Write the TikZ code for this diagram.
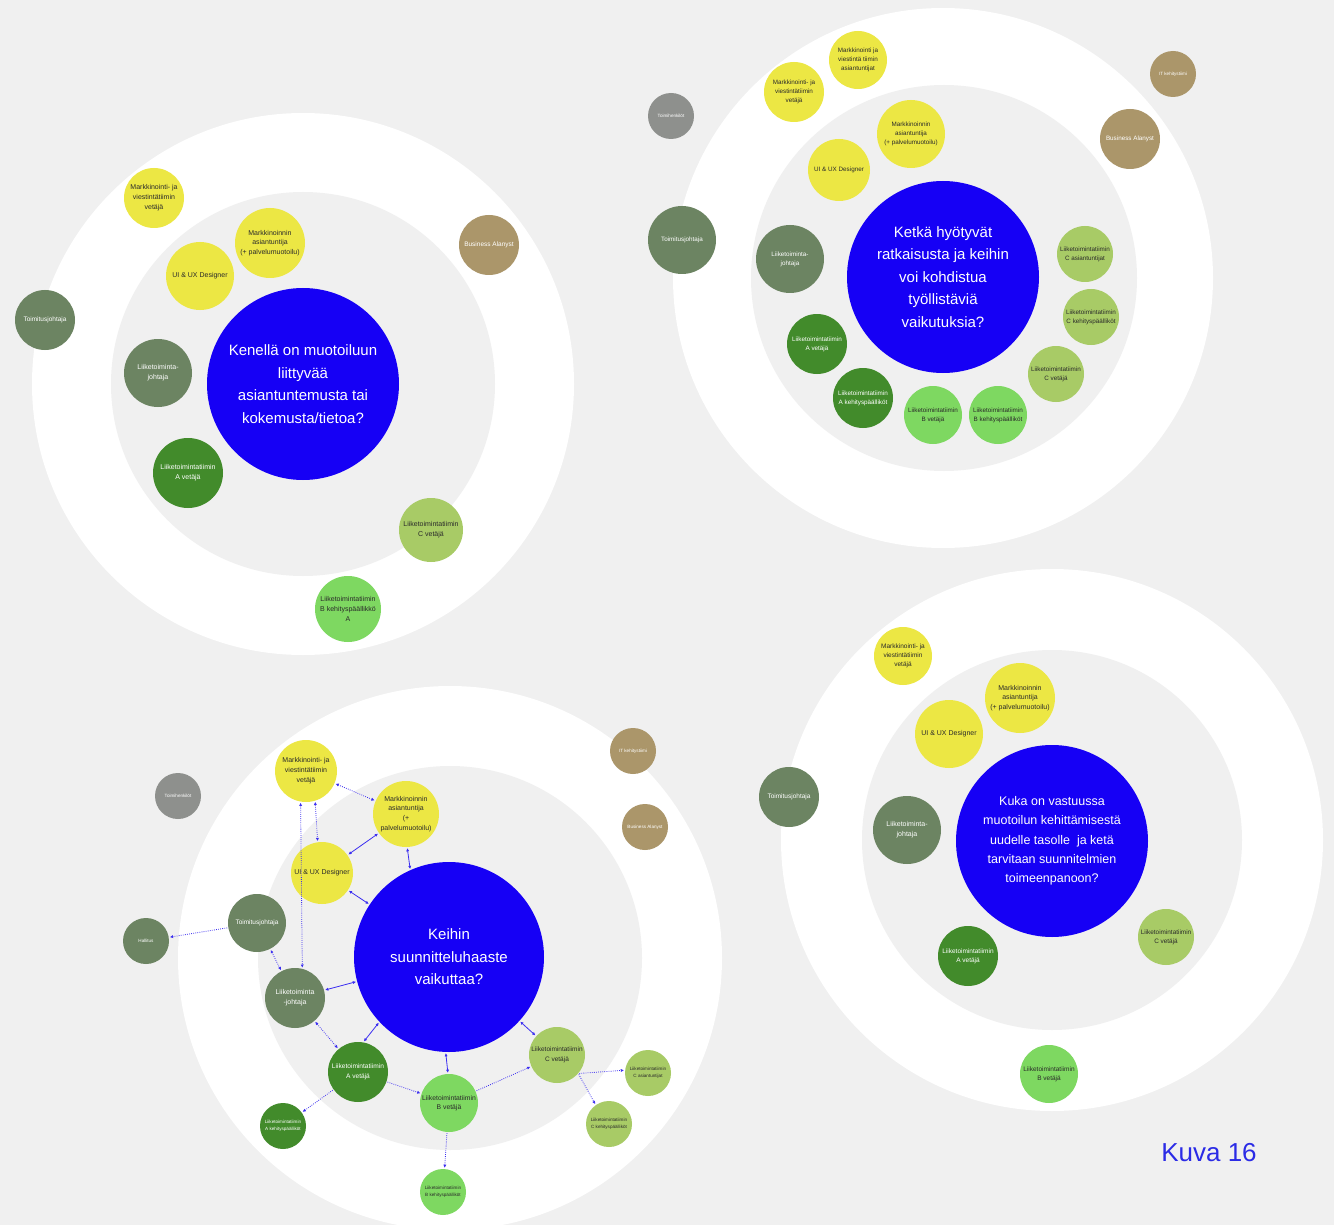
\documentclass[tikz,border=0pt]{standalone}
\usepackage{fontspec}
\setmainfont{Liberation Sans}
\usetikzlibrary{arrows.meta}
\definecolor{bg}{HTML}{F0F0F0}
\definecolor{qblue}{HTML}{1600F5}
\definecolor{ylw}{HTML}{ECE744}
\definecolor{tanc}{HTML}{AB966A}
\definecolor{sage}{HTML}{6C8462}
\definecolor{dgreen}{HTML}{428B2B}
\definecolor{olive}{HTML}{A8CB66}
\definecolor{lgreen}{HTML}{7ED861}
\definecolor{grey}{HTML}{8E908D}
\definecolor{lnk}{HTML}{3B2EF0}
\definecolor{ink}{HTML}{2A2A2A}
\definecolor{capblue}{HTML}{2B2BE6}
\newcommand\setfs[2]{\fontsize{#1}{#2}\selectfont}
\begin{document}
\begin{tikzpicture}[x=1pt,y=-1pt,
  >={Latex[length=3.2pt,width=3.2pt]},
  bub/.style={circle, minimum size=#1, inner sep=0pt, align=center, font=\setfs{7}{10}},
  ylwn/.style={bub=#1, fill=ylw, text=ink},
  tann/.style={bub=#1, fill=tanc, text=white},
  sagen/.style={bub=#1, fill=sage, text=white},
  dgrn/.style={bub=#1, fill=dgreen, text=white},
  olivn/.style={bub=#1, fill=olive, text=ink},
  lgrn/.style={bub=#1, fill=lgreen, text=ink},
  gryn/.style={bub=#1, fill=grey, text=white},
  qnode/.style={bub=#1, fill=qblue, text=white, font=\setfs{15}{22.5}},
  tiny/.style={font=\setfs{4.6}{7}},
  small/.style={font=\setfs{6.3}{9.2}},
  lnkline/.style={draw=lnk, line width=0.8pt, shorten <=1pt, shorten >=1pt},
  lnkdots/.style={lnkline, dash pattern=on 0.8pt off 1.3pt}
]
% page background
\fill[bg] (0,0) rectangle (1334,1225);
\path[use as bounding box] (0,0) rectangle (1334,1225);

% outer white rings
\fill[white] (303,384) circle[radius=271pt];
\fill[white] (943,278) circle[radius=270pt];
\fill[white] (450,958) circle[radius=272pt];
\fill[white] (1052,840) circle[radius=271pt];
% inner grey discs
\fill[bg] (303,384) circle[radius=192pt];
\fill[bg] (944,278) circle[radius=193pt];
\fill[bg] (450,958) circle[radius=192pt];
\fill[bg] (1052,840) circle[radius=190pt];

% ---------------- top left ----------------
\node[qnode=192pt] (d1q) at (303,384) {Kenellä on muotoiluun\\liittyvää\\asiantuntemusta tai\\kokemusta/tietoa?};
\node[ylwn=60pt] (d1mv) at (154,198) {Markkinointi- ja\\viestintätiimin\\vetäjä};
\node[ylwn=70pt, font=\setfs{7}{9.6}] (d1ma) at (270,243) {Markkinoinnin\\asiantuntija\\(+ palvelumuotoilu)};
\node[ylwn=68pt] (d1ui) at (200,276) {UI \& UX Designer};
\node[tann=60pt, font=\setfs{6.5}{9}] (d1ba) at (489,245) {Business Alanyst};
\node[sagen=60pt, font=\setfs{6.5}{9}] (d1tj) at (45,320) {Toimitusjohtaja};
\node[sagen=68pt] (d1lj) at (158,373) {Liiketoiminta-\\johtaja};
\node[dgrn=70pt] (d1av) at (188,473) {Liiketoimintatiimin\\A vetäjä};
\node[olivn=64pt] (d1cv) at (431,530) {Liiketoimintatiimin\\C vetäjä};
\node[lgrn=66pt] (d1bk) at (348,609) {Liiketoimintatiimin\\B kehityspäällikkö\\A};

% ---------------- top right ----------------
\node[qnode=192pt] (d2q) at (943,277) {Ketkä hyötyvät\\ratkaisusta ja keihin\\voi kohdistua\\työllistäviä\\vaikutuksia?};
\node[ylwn=58pt, small] (d2mt) at (858,60) {Markkinointi ja\\viestintä tiimin\\asiantuntijat};
\node[ylwn=60pt, small] (d2mv) at (794,92) {Markkinointi- ja\\viestintätiimin\\vetäjä};
\node[ylwn=68pt, small] (d2ma) at (911,134) {Markkinoinnin\\asiantuntija\\(+ palvelumuotoilu)};
\node[ylwn=62pt, small] (d2ui) at (839,170) {UI \& UX Designer};
\node[gryn=46pt, tiny] (d2th) at (671,116) {Toimihenkilöt};
\node[tann=46pt, tiny] (d2it) at (1173,74) {IT kehitystiimi};
\node[tann=60pt, small] (d2ba) at (1130,139) {Business Alanyst};
\node[sagen=68pt, small] (d2tj) at (682,240) {Toimitusjohtaja};
\node[sagen=68pt, small] (d2lj) at (790,259) {Liiketoiminta-\\johtaja};
\node[olivn=56pt, small] (d2ca) at (1085,254) {Liiketoimintatiimin\\C asiantuntijat};
\node[olivn=56pt, small] (d2ck) at (1091,317) {Liiketoimintatiimin\\C kehityspäälliköt};
\node[olivn=56pt, small] (d2cv) at (1056,374) {Liiketoimintatiimin\\C vetäjä};
\node[dgrn=60pt, small] (d2av) at (817,344) {Liiketoimintatiimin\\A vetäjä};
\node[dgrn=60pt, small] (d2ak) at (863,398) {Liiketoimintatiimin\\A kehityspäälliköt};
\node[lgrn=58pt, small] (d2bv) at (933,415) {Liiketoimintatiimin\\B vetäjä};
\node[lgrn=58pt, small] (d2bk) at (998,415) {Liiketoimintatiimin\\B kehityspäälliköt};

% ---------------- bottom left ----------------
\node[qnode=190pt] (d3q) at (449,957) {Keihin\\suunnitteluhaaste\\vaikuttaa?};
\node[ylwn=62pt] (d3mv) at (306,771) {Markkinointi- ja\\viestintätiimin\\vetäjä};
\node[ylwn=66pt, font=\setfs{7}{9.7}] (d3ma) at (406,814) {Markkinoinnin\\asiantuntija\\(+\\palvelumuotoilu)};
\node[ylwn=62pt] (d3ui) at (322,873) {UI \& UX Designer};
\node[gryn=46pt, tiny] (d3th) at (178,796) {Toimihenkilöt};
\node[tann=46pt, tiny] (d3it) at (633,751) {IT kehitystiimi};
\node[tann=46pt, tiny] (d3ba) at (645,827) {Business Alanyst};
\node[sagen=58pt, font=\setfs{6.5}{9}] (d3tj) at (257,923) {Toimitusjohtaja};
\node[sagen=46pt, tiny] (d3ha) at (146,941) {Hallitus};
\node[sagen=60pt] (d3lj) at (295,998) {Liiketoiminta\\-johtaja};
\node[dgrn=60pt, font=\setfs{6.6}{9.5}] (d3av) at (358,1072) {Liiketoimintatiimin\\A vetäjä};
\node[dgrn=46pt, tiny] (d3ak) at (283,1126) {Liiketoimintatiimin\\A kehityspäälliköt};
\node[lgrn=58pt, font=\setfs{6.8}{9.5}] (d3bv) at (449,1103) {Liiketoimintatiimin\\B vetäjä};
\node[lgrn=46pt, tiny] (d3bk) at (443,1192) {Liiketoimintatiimin\\B kehityspäälliköt};
\node[olivn=56pt, font=\setfs{6.5}{9.5}] (d3cv) at (557,1055) {Liiketoimintatiimin\\C vetäjä};
\node[olivn=46pt, tiny] (d3ca) at (648,1073) {Liiketoimintatiimin\\C asiantuntijat};
\node[olivn=46pt, tiny] (d3ck) at (609,1124) {Liiketoimintatiimin\\C kehityspäälliköt};

% links between the people of the bottom-left circle
\draw[lnkdots,<->] (d3mv) -- (d3ma);
\draw[lnkdots,<->] (d3mv.287) -- (d3ui.98);
\draw[lnkdots,<->] (d3mv.260) -- (d3lj.76);
\draw[lnkline,<->] (d3ui) -- (d3ma);
\draw[lnkline,<->] (d3ma.272) -- (d3q.114);
\draw[lnkline,<->] (d3ui) -- (d3q);
\draw[lnkdots,->] (d3tj) -- (d3ha);
\draw[lnkdots,<->] (d3tj) -- (d3lj);
\draw[lnkline,<->] (d3lj) -- (d3q);
\draw[lnkdots,<->] (d3lj) -- (d3av);
\draw[lnkline,<->] (d3av.80) -- (d3q.223);
\draw[lnkline,<->] (d3q.268) -- (d3bv.92);
\draw[lnkdots,->] (d3av) -- (d3bv);
\draw[lnkdots,->] (d3av) -- (d3ak);
\draw[lnkline,<->] (d3q) -- (d3cv);
\draw[lnkdots,->] (d3bv) -- (d3cv);
\draw[lnkdots,->] (d3cv.319) -- (d3ca.173);
\draw[lnkdots,->] (d3cv.319) -- (d3ck.125);
\draw[lnkdots,->] (d3bv) -- (d3bk);

% ---------------- bottom right ----------------
\node[qnode=192pt, font=\setfs{12.5}{19.3}] (d4q) at (1052,841) {Kuka on vastuussa\\muotoilun kehittämisestä\\uudelle tasolle\ \ ja ketä\\tarvitaan suunnitelmien\\toimeenpanoon?};
\node[ylwn=58pt, font=\setfs{6.5}{9.2}] (d4mv) at (903,656) {Markkinointi- ja\\viestintätiimin\\vetäjä};
\node[ylwn=70pt, font=\setfs{7}{9.6}] (d4ma) at (1020,698) {Markkinoinnin\\asiantuntija\\(+ palvelumuotoilu)};
\node[ylwn=68pt] (d4ui) at (949,734) {UI \& UX Designer};
\node[sagen=60pt, font=\setfs{6.5}{9}] (d4tj) at (789,797) {Toimitusjohtaja};
\node[sagen=68pt] (d4lj) at (907,830) {Liiketoiminta-\\johtaja};
\node[olivn=56pt, font=\setfs{6.4}{9.2}] (d4cv) at (1166,937) {Liiketoimintatiimin\\C vetäjä};
\node[dgrn=60pt, font=\setfs{6.5}{9.2}] (d4av) at (968,956) {Liiketoimintatiimin\\A vetäjä};
\node[lgrn=58pt, font=\setfs{6.5}{9.2}] (d4bv) at (1049,1074) {Liiketoimintatiimin\\B vetäjä};

% caption
\node[text=capblue, font=\setfs{26}{30}] (cap) at (1209,1153) {Kuva 16};
\end{tikzpicture}
\end{document}
